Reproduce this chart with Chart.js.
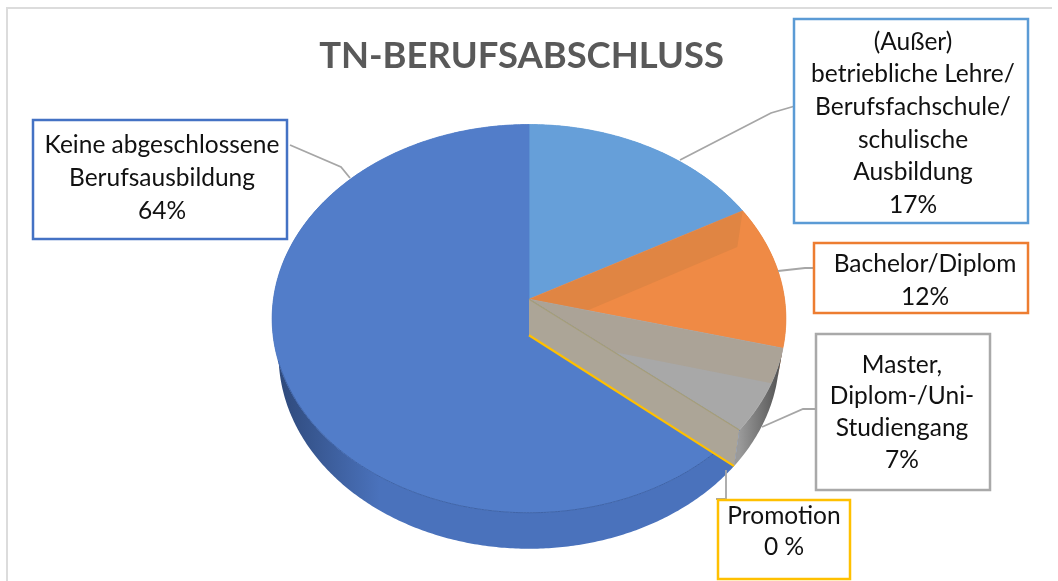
<!DOCTYPE html>
<html><head><meta charset="utf-8">
<style>html,body{margin:0;padding:0;background:#fff}canvas{display:block}</style>
<script src="https://cdn.jsdelivr.net/npm/chart.js@4"></script></head>
<body><canvas id="c" width="1058" height="581"></canvas>
<script>
const categories = ["(Außer) betriebliche Lehre/Berufsfachschule/schulische Ausbildung","Bachelor/Diplom","Master, Diplom-/Uni-Studiengang","Promotion","Keine abgeschlossene Berufsausbildung"];
const values = [17, 12, 7, 0, 64];
const sliceColors = ["#669fd9","#ef8a45","#a8a8a8","#ffc000","#527dc9"];
const bandColors = [null,"#e08543","#aba397",null,null];
const rimColors = [["#4f86be","#4f86be"],["#c06a30","#c06a30"],["#4e4e4e","#9a9a9a"],["#ffc000","#ffc000"],["#2f4a7c","#4a72bc"]];
const labelLines = [
  ["(Außer)","betriebliche Lehre/","Berufsfachschule/","schulische","Ausbildung","17%"],
  ["Bachelor/Diplom","12%"],
  ["Master,","Diplom-/Uni-","Studiengang","7%"],
  ["Promotion","0 %"],
  ["Keine abgeschlossene","Berufsausbildung","64%"]
];
const borderColors = ["#5b9bd5","#ed7d31","#a9a9a9","#ffc000","#4472c4"];
const boxes = [[794,19,1028,223],[814,243,1028,313],[816,334,990,490],[718,500,850,579],[33,120,287,239]];
const textX = [913,925,902,784,162];
const textY = [[42,74,107,140,172,205],[264,297],[365,396,428,460],[516,547],[145,178,211]];
const leaders = [[[795,106],[771,113],[680,160]],[[814,268],[805,268],[778,271]],[[816,409],[803,409],[762,427]],[[726,470],[726,499],[716,499]],[[290,145],[341,167],[350,178]]];
const K = 0.1, TILT = 0.752, DEPTH = 36, SHRINK = 0.975;

function proj(el, a){
  const t = a + Math.PI/2, u = Math.sin(t), v = -Math.cos(t), w = 1 - K*v, R = el.outerRadius;
  return [el.x + R*u/w, el.y + R*TILT*v/w];
}
function drop(el, p){ return [el.x + (p[0]-el.x)*SHRINK, p[1] + DEPTH]; }
function arcPts(el){
  const pts = [], n = Math.max(2, Math.ceil((el.endAngle-el.startAngle)/0.01));
  for(let i=0;i<=n;i++) pts.push(proj(el, el.startAngle + (el.endAngle-el.startAngle)*i/n));
  return pts;
}
function poly(ctx, pts){ ctx.beginPath(); pts.forEach((p,i)=> i?ctx.lineTo(p[0],p[1]):ctx.moveTo(p[0],p[1])); ctx.closePath(); }

const pie3d = {
  id:'pie3d',
  afterLayout(chart){ chart.titleBlock.left -= 7.5; chart.titleBlock.right -= 7.5; },
  beforeDatasetsDraw(chart){
    const ctx = chart.ctx, els = chart.getDatasetMeta(0).data;
    ctx.save();
    // outer rim
    els.forEach((el,i)=>{
      if(el.endAngle-el.startAngle<=0) return;
      const top = arcPts(el), bot = top.map(p=>drop(el,p)).reverse();
      const xs = top.map(p=>p[0]);
      const g = ctx.createLinearGradient(i==4?280:Math.max(...xs), 0, i==4?380:Math.min(...xs), 0);
      g.addColorStop(0, rimColors[i][0]); g.addColorStop(1, rimColors[i][1]);
      poly(ctx, top.concat(bot)); ctx.fillStyle = g; ctx.fill();
    });
    // top faces
    els.forEach((el,i)=>{
      if(el.endAngle-el.startAngle<=0) return;
      const face = [[el.x,el.y]].concat(arcPts(el));
      poly(ctx, face); ctx.fillStyle = el.options.backgroundColor; ctx.fill();
      ctx.lineWidth = 0.8; ctx.strokeStyle = el.options.backgroundColor; ctx.stroke();
      if(bandColors[i]){
        ctx.save(); poly(ctx, face); ctx.clip();
        const e = proj(el, el.startAngle), ax=[el.x,el.y];
        poly(ctx, [ax, e, drop(el,e), drop(el,ax)]);
        ctx.fillStyle = bandColors[i]; ctx.fill();
        ctx.restore();
      }
    });
    // rim edge of blue front (only the part facing the viewer)
    const blue = els[4];
    ctx.beginPath(); arcPts(blue).filter(p=>p[1] > blue.y + 60).forEach((p,i)=> i?ctx.lineTo(p[0],p[1]):ctx.moveTo(p[0],p[1]));
    ctx.strokeStyle = "#3f63a6"; ctx.lineWidth = 1; ctx.stroke();
    // inner wall at the zero slice, with its edge in that slice's colour
    const zero = els[3], e = proj(zero, zero.startAngle), ax = [zero.x, zero.y];
    poly(ctx, [ax, e, drop(zero,e), drop(zero,ax)]);
    ctx.fillStyle = "#aca597"; ctx.fill();
    ctx.beginPath(); ctx.moveTo(ax[0],ax[1]); ctx.lineTo(e[0],e[1]);
    ctx.strokeStyle = "#a89f78"; ctx.lineWidth = 1.2; ctx.stroke();
    ctx.beginPath(); const a2 = drop(zero,ax), e2 = drop(zero,e);
    ctx.moveTo(a2[0],a2[1]); ctx.lineTo(e2[0],e2[1]);
    ctx.strokeStyle = zero.options.backgroundColor; ctx.lineWidth = 2.2; ctx.stroke();
    ctx.restore();
    return false;
  },
  afterDraw(chart){
    const ctx = chart.ctx;
    ctx.save();
    // frame
    ctx.strokeStyle = "#dcdcdc"; ctx.lineWidth = 2;
    ctx.beginPath(); ctx.moveTo(7,581); ctx.lineTo(7,8); ctx.lineTo(1052,8); ctx.stroke();
    // leaders
    ctx.strokeStyle = "#a6a6a6"; ctx.lineWidth = 1.8;
    leaders.forEach(l=>{ ctx.beginPath(); l.forEach((p,i)=> i?ctx.lineTo(p[0],p[1]):ctx.moveTo(p[0],p[1])); ctx.stroke(); });
    // boxes & text
    boxes.forEach((b,i)=>{
      ctx.fillStyle = "#fff"; ctx.fillRect(b[0],b[1],b[2]-b[0],b[3]-b[1]);
      ctx.strokeStyle = borderColors[i]; ctx.lineWidth = 2.5; ctx.strokeRect(b[0],b[1],b[2]-b[0],b[3]-b[1]);
      ctx.fillStyle = "#111"; ctx.font = "24.5px Lato"; ctx.textAlign = "center"; ctx.textBaseline = "middle";
      labelLines[i].forEach((t,j)=> ctx.fillText(t, textX[i], textY[i][j]));
    });
    ctx.restore();
  }
};
new Chart(document.getElementById('c'), {
  type:'pie',
  data:{ labels:categories, datasets:[{ data:values, backgroundColor:sliceColors, borderWidth:0 }] },
  options:{
    responsive:false, animation:false,
    layout:{ padding:{ top:0, bottom:26.2 } },
    plugins:{
      legend:{ display:false }, tooltip:{ enabled:false },
      title:{ display:true, text:"TN-BERUFSABSCHLUSS", color:"#595959",
        font:{ family:"Lato", size:36.4, weight:"bold", lineHeight:1.2 }, padding:{ top:34.5, bottom:-34.5 } }
    }
  },
  plugins:[pie3d]
});
</script></body></html>
